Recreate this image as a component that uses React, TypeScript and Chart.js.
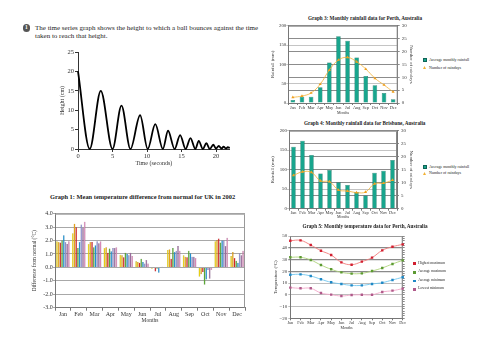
import React, { useEffect, useRef } from 'react';
import { Chart, registerables } from 'chart.js';

Chart.register(...registerables);

const SERIF = '"Liberation Serif", "Times New Roman", serif';
Chart.defaults.font.family = SERIF;
Chart.defaults.color = '#333';

// ---------------- Ball bounce (height vs time) ----------------
const bounceTime = [0, 1.7, 3.3, 5.0, 6.3, 7.6, 9.0, 10.1, 11.2, 12.3, 13.05, 14.0, 14.8, 15.6, 16.3, 17.0, 17.5, 18.1, 18.6, 19.1, 19.6, 20.0, 20.4, 20.8, 21.1, 21.45, 21.7, 22.0];
const bounceHeight = [20, 0, 15, 0, 11.2, 0, 8.7, 0, 6.4, 0, 4.7, 0, 3.6, 0, 2.8, 0, 2.1, 0, 1.5, 0, 1.1, 0.1, 0.8, 0.1, 0.6, 0.15, 0.45, 0.3];

// ---------------- Graph 1: UK 2002 temperature difference ----------------
const months = ['Jan', 'Feb', 'Mar', 'Apr', 'May', 'Jun', 'Jul', 'Aug', 'Sep', 'Oct', 'Nov', 'Dec'];
const ukSeries1 = [1.95, 2.55, 1.75, 1.45, 0.95, 0.45, -0.1, 1.3, 0.9, -0.7, 1.95, 0.85];
const ukSeries2 = [1.9, 3.25, 1.9, 1.5, 0.9, 0.4, -0.05, 1.35, 0.8, -0.5, 2.05, 1.15];
const ukSeries3 = [1.85, 3.0, 1.9, 1.1, 0.75, 0.35, -0.3, 0.65, 0.75, -0.35, 2.15, 0.7];
const ukSeries4 = [2.0, 1.45, 1.5, 1.4, 1.1, 0.65, -0.1, 1.45, 1.25, -1.3, 1.85, 0.5];
const ukSeries5 = [2.4, 1.9, 1.65, 1.2, 1.0, 0.4, -0.4, 1.15, 1.05, -0.9, 2.0, 0.35];
const ukSeries6 = [1.9, 3.2, 1.95, 1.45, 0.9, 0.3, 0.0, 1.25, 0.8, -0.2, 2.0, 1.05];
const ukSeries7 = [1.75, 2.95, 1.8, 1.45, 1.1, 0.55, 0.05, 1.6, 0.8, -0.85, 1.6, 0.9];
const ukSeries8 = [1.95, 3.4, 1.95, 1.5, 0.85, 0.3, 0.0, 1.25, 0.7, -0.2, 2.2, 1.25];
const ukSeries = [ukSeries1, ukSeries2, ukSeries3, ukSeries4, ukSeries5, ukSeries6, ukSeries7, ukSeries8];
const ukColors = ['#e6cf12', '#e5a21a', '#d32226', '#58a634', '#1e8fce', '#8e8fca', '#9a6a9c', '#d688b6'];
const ukBorders = ['#9a8a00', '#9a6a00', '#8a1010', '#2f6a1a', '#0f5a86', '#5a5a8a', '#5a3a5c', '#8a4a72'];

// ---------------- Graph 3: Perth rainfall ----------------
const perthRainfall = [8, 16, 16, 41, 105, 173, 161, 118, 70, 46, 26, 10];
const perthRaindays = [2.2, 2.7, 3.9, 7.3, 12.8, 16.7, 17.7, 16.0, 13.2, 9.6, 7.0, 4.3];

// ---------------- Graph 4: Brisbane rainfall ----------------
const brisbaneRainfall = [159, 174, 138, 90, 99, 68, 61, 43, 34, 92, 97, 125];
const brisbaneRaindays = [12.8, 14.2, 14.0, 10.7, 10.4, 7.2, 6.8, 6.2, 6.4, 9.6, 9.8, 11.0];

// ---------------- Graph 5: Perth temperature ----------------
const highestMaximum = [46, 46.3, 42.3, 37.5, 33.8, 27.6, 25.6, 28.2, 31.6, 37.8, 40.9, 42.9];
const averageMaximum = [31.9, 31.9, 29.6, 25.3, 21.7, 19.1, 18.0, 18.2, 20.2, 22.8, 26.2, 29.3];
const averageMinimum = [17.1, 17.4, 16.0, 13.2, 10.6, 9.2, 8.0, 8.0, 9.2, 10.3, 12.6, 14.9];
const lowestMinimum = [6.1, 5.5, 5.5, 1.5, 0.1, -1.0, -0.2, 0.0, 0.0, 2.4, 3.5, 5.2];
const tempNames = ['Highest maximum', 'Average maximum', 'Average minimum', 'Lowest minimum'];
const tempLineColors = ['#f27a7a', '#aed47a', '#72c6ee', '#f2a6c8'];
const tempPointColors = ['#d21f30', '#5c9a32', '#1f88c6', '#b05a8a'];

const TEAL = '#19a58d';
const TEAL_DARK = '#0f6456';
const ORANGE = '#f2b134';

const fixW = (w: number) => (s: any) => { s.width = w; };
const fixH = (h: number) => (s: any) => { s.height = h; };

const framePlugin = (color: string) => ({
  id: 'frame',
  beforeDatasetsDraw(chart: any) {
    const { ctx, chartArea: a } = chart;
    ctx.save();
    ctx.strokeStyle = color;
    ctx.lineWidth = 1;
    ctx.beginPath();
    ctx.moveTo(a.left, a.top + 0.5);
    ctx.lineTo(a.right - 0.5, a.top + 0.5);
    ctx.lineTo(a.right - 0.5, a.bottom);
    ctx.stroke();
    ctx.restore();
  },
});

function bounceConfig(): any {
  return {
    type: 'line',
    data: {
      datasets: [{
        data: bounceTime.map((t, i) => ({ x: t, y: bounceHeight[i] })),
        borderColor: '#000', borderWidth: 1.8, pointRadius: 0,
        cubicInterpolationMode: 'monotone', fill: false, clip: 4,
      }],
    },
    options: {
      animation: false, responsive: false, maintainAspectRatio: false,
      layout: { padding: { left: 0, right: 10.2, top: 7, bottom: 0 } },
      plugins: { legend: { display: false }, tooltip: { enabled: false } },
      scales: {
        x: {
          type: 'linear', min: 0, max: 22,
          ticks: { stepSize: 5, includeBounds: false, font: { size: 6.5 }, padding: 0, maxRotation: 0 },
          grid: { drawOnChartArea: false, drawTicks: true, tickLength: 3, color: '#333' },
          border: { color: '#333' },
          title: { display: true, text: 'Time (seconds)', font: { size: 6 }, padding: { top: 0, bottom: 3.4 } },
          afterFit: fixH(21),
        },
        y: {
          min: 0, max: 25,
          ticks: { stepSize: 5, font: { size: 6.5 }, padding: 1 },
          grid: { drawOnChartArea: false, tickLength: 3, color: '#333' },
          border: { color: '#333' },
          title: { display: true, text: 'Height (cm)', font: { size: 6 }, padding: { top: 18.4, bottom: 0 } },
          afterFit: fixW(38),
        },
      },
    },
  };
}

function ukConfig(): any {
  return {
    type: 'bar',
    data: {
      labels: months,
      datasets: ukSeries.map((d, i) => ({
        label: 'Series ' + (i + 1), data: d,
        backgroundColor: ukColors[i], borderColor: ukBorders[i], borderWidth: 0.3,
        barPercentage: 1, categoryPercentage: 0.86,
      })),
    },
    options: {
      animation: false, responsive: false, maintainAspectRatio: false,
      layout: { padding: { left: 0, right: 10, top: 8.7, bottom: 0 } },
      plugins: { legend: { display: false }, tooltip: { enabled: false } },
      scales: {
        x: {
          ticks: { font: { size: 6 }, padding: 0, autoSkip: false, maxRotation: 0, minRotation: 0 },
          grid: { drawOnChartArea: false, tickLength: 3, color: '#777', offset: true },
          border: { color: '#777' },
          title: { display: true, text: 'Months', font: { size: 5.5 }, padding: { top: 0, bottom: 5.7 } },
          afterFit: fixH(22.3),
        },
        y: {
          min: -3, max: 4,
          ticks: { stepSize: 1, font: { size: 6 }, padding: 0.3, callback: (v: any) => Number(v).toFixed(1) },
          grid: { color: '#a8a8a8', tickLength: 2 },
          border: { color: '#777' },
          title: { display: true, text: 'Difference from normal (°C)', font: { size: 5.3 }, padding: { top: 11.8, bottom: 0 } },
          afterFit: fixW(35),
        },
      },
    },
    plugins: [framePlugin('#999')],
  };
}

function rainConfig(rain: number[], days: number[], yw: number, rw: number, xh: number, pt: number, monthsPad: number): any {
  return {
    type: 'bar',
    data: {
      labels: months,
      datasets: [
        {
          type: 'line', label: 'Number of raindays', data: days, yAxisID: 'y1',
          borderColor: ORANGE, borderWidth: 0.8, tension: 0.4,
          pointStyle: 'triangle', pointRadius: 1.8, pointBackgroundColor: '#f0a020', pointBorderWidth: 0,
          order: 0,
        },
        {
          type: 'bar', label: 'Average monthly rainfall', data: rain, yAxisID: 'y',
          backgroundColor: TEAL, borderColor: TEAL_DARK, borderWidth: 0.5,
          barPercentage: 0.5, categoryPercentage: 1, order: 1,
        },
      ],
    },
    options: {
      animation: false, responsive: false, maintainAspectRatio: false,
      layout: { padding: { left: 0, right: 0, top: pt, bottom: 0 } },
      plugins: { legend: { display: false }, tooltip: { enabled: false } },
      scales: {
        x: {
          ticks: { font: { size: 4.3 }, padding: 0, autoSkip: false, maxRotation: 0, minRotation: 0 },
          grid: { drawOnChartArea: false, tickLength: 2, color: '#777', offset: true },
          border: { color: '#777' },
          title: { display: true, text: 'Months', font: { size: 4 }, padding: { top: 0, bottom: monthsPad } },
          afterFit: fixH(xh),
        },
        y: {
          position: 'left', min: 0, max: 200,
          ticks: { stepSize: 50, font: { size: 4.9 }, padding: 0 },
          grid: { color: '#c4c4c4', tickLength: 2 },
          border: { color: '#777' },
          title: { display: true, text: 'Rainfall (mm)', font: { size: 4.8 }, padding: { top: 15.1, bottom: 0 } },
          afterFit: fixW(yw),
        },
        y1: {
          position: 'right', min: 0, max: 30,
          ticks: { stepSize: 5, font: { size: 4.9 }, padding: 2 },
          grid: { color: '#8c8c8c', tickLength: 2 },
          border: { color: '#777' },
          title: { display: true, text: 'Number of raindays', font: { size: 4.8 }, padding: { top: 5.4, bottom: 0 } },
          afterFit: fixW(rw),
        },
      },
    },
    plugins: [framePlugin('#888')],
  };
}

function tempConfig(): any {
  const series = [highestMaximum, averageMaximum, averageMinimum, lowestMinimum];
  return {
    type: 'line',
    data: {
      labels: months,
      datasets: series.map((d, i) => ({
        label: tempNames[i], data: d,
        borderColor: tempLineColors[i], borderWidth: 0.9, tension: 0.4,
        pointStyle: 'rect', pointRadius: 1.7, pointBackgroundColor: tempPointColors[i],
        pointBorderColor: tempPointColors[i], pointBorderWidth: 0, clip: 4,
      })),
    },
    options: {
      animation: false, responsive: false, maintainAspectRatio: false,
      layout: { padding: { left: 0, right: 0, top: 6, bottom: 0 } },
      plugins: { legend: { display: false }, tooltip: { enabled: false } },
      scales: {
        x: {
          offset: false,
          ticks: { font: { size: 4.3 }, padding: 0, autoSkip: false, maxRotation: 0, minRotation: 0 },
          grid: { drawOnChartArea: false, tickLength: 2, color: '#777' },
          border: { color: '#777' },
          title: { display: true, text: 'Months', font: { size: 4 }, padding: { top: 0, bottom: 4.3 } },
          afterFit: fixH(16.7),
        },
        y: {
          min: -20, max: 50,
          ticks: { stepSize: 10, font: { size: 5 }, padding: 1, callback: (v: any) => String(v).replace('-', '\u2212') },
          grid: {
            color: (c: any) => ([20, 30, 40].includes(c.tick && c.tick.value) ? '#8a8a8a' : '#bdbdbd'),
            lineWidth: (c: any) => ([20, 30, 40].includes(c.tick && c.tick.value) ? 1.3 : 1),
            tickLength: 2,
          },
          border: { color: '#777' },
          title: { display: true, text: 'Temperature (°C)', font: { size: 4.8 }, padding: { top: 17.7, bottom: 0 } },
          afterFit: fixW(35.3),
        },
        y1: {
          position: 'right', min: -20, max: 50,
          ticks: { stepSize: 2, display: false },
          grid: { drawOnChartArea: false, tickLength: 2, color: '#888' },
          border: { color: '#777' },
          afterFit: fixW(12.3),
        },
      },
    },
    plugins: [framePlugin('#999')],
  };
}

function ChartBox({ x, y, w, h, make }: { x: number; y: number; w: number; h: number; make: () => any }) {
  const ref = useRef<HTMLCanvasElement>(null);
  useEffect(() => {
    const chart = new Chart(ref.current as HTMLCanvasElement, make());
    return () => chart.destroy();
  }, []);
  return <canvas ref={ref} width={w} height={h} style={{ position: 'absolute', left: x, top: y, width: w, height: h }} />;
}

function Txt({ x, y, size, bold, anchor, children }: { x: number; y: number; size: number; bold?: boolean; anchor?: string; children: any }) {
  const tx = anchor === 'middle' ? '-50%' : anchor === 'end' ? '-100%' : '0';
  return (
    <div style={{
      position: 'absolute', left: x, top: y, transform: `translate(${tx}, -50%)`,
      fontFamily: SERIF, fontSize: size, fontWeight: bold ? 'bold' : 'normal',
      lineHeight: 1, whiteSpace: 'nowrap', color: '#222',
    }}>{children}</div>
  );
}

function Tri({ cx, cy, s, color }: { cx: number; cy: number; s: number; color: string }) {
  return (
    <svg width={s} height={s} style={{ position: 'absolute', left: cx - s / 2, top: cy - s / 2 }}>
      <polygon points={`${s / 2},0 ${s},${s} 0,${s}`} fill={color} />
    </svg>
  );
}

function Sq({ x, y, s, color, border }: { x: number; y: number; s: number; color: string; border?: string }) {
  return <div style={{ position: 'absolute', left: x, top: y, width: s, height: s, background: color, boxSizing: 'border-box', border: border ? `0.5px solid ${border}` : 'none' }} />;
}

const legendY5 = [263.7, 272.3, 281, 289.3];

export default function App() {
  return (
    <div style={{ position: 'absolute', left: 0, top: 0, width: 500, height: 353, background: '#fff', overflow: 'hidden' }}>
      {/* Question number and intro text */}
      <div style={{
        position: 'absolute', left: 22.5, top: 24, width: 7.5, height: 7.5, borderRadius: '50%', background: '#555',
        color: '#fff', fontFamily: SERIF, fontWeight: 'bold', fontSize: 5.5, lineHeight: '7.5px', textAlign: 'center',
      }}>1</div>
      <Txt x={35} y={28} size={7}>The time series graph shows the height to which a ball bounces against the time</Txt>
      <Txt x={35} y={35.5} size={7}>taken to reach that height.</Txt>

      <ChartBox x={40} y={45} w={200} h={125} make={bounceConfig} />

      <Txt x={142.5} y={197} size={6.4} bold anchor="middle">Graph 1: Mean temperature difference from normal for UK in 2002</Txt>
      <ChartBox x={20} y={205} w={235} h={125} make={ukConfig} />

      <Txt x={365} y={18.5} size={5.2} bold anchor="middle">Graph 3: Monthly rainfall data for Perth, Australia</Txt>
      <ChartBox x={255} y={20} w={165} h={100} make={() => rainConfig(perthRainfall, perthRaindays, 33.3, 22.3, 17, 5.7, 4.9)} />
      <Sq x={422.7} y={58.3} s={4} color={TEAL} border={TEAL_DARK} />
      <Txt x={429} y={60.3} size={4}>Average monthly rainfall</Txt>
      <Tri cx={424.5} cy={67.5} s={3} color={ORANGE} />
      <Txt x={429} y={67.7} size={4}>Number of raindays</Txt>

      <Txt x={364.7} y={123.5} size={5.2} bold anchor="middle">Graph 4: Monthly rainfall data for Brisbane, Australia</Txt>
      <ChartBox x={255} y={125} w={165} h={100} make={() => rainConfig(brisbaneRainfall, brisbaneRaindays, 34, 23, 16.3, 5.7, 5.6)} />
      <Sq x={422.7} y={165} s={4} color={TEAL} border={TEAL_DARK} />
      <Txt x={429} y={167} size={4}>Average monthly rainfall</Txt>
      <Tri cx={424.5} cy={173.3} s={3} color={ORANGE} />
      <Txt x={429} y={173.3} size={4}>Number of raindays</Txt>

      <Txt x={365} y={227.3} size={5.2} bold anchor="middle">Graph 5: Monthly temperature data for Perth, Australia</Txt>
      <ChartBox x={255} y={230} w={160} h={105} make={tempConfig} />
      {tempNames.map((n, i) => (
        <React.Fragment key={n}>
          <Sq x={413} y={legendY5[i] - 1.3} s={2.6} color={tempPointColors[i]} />
          <Txt x={418.3} y={legendY5[i]} size={3.6}>{n}</Txt>
        </React.Fragment>
      ))}
    </div>
  );
}
